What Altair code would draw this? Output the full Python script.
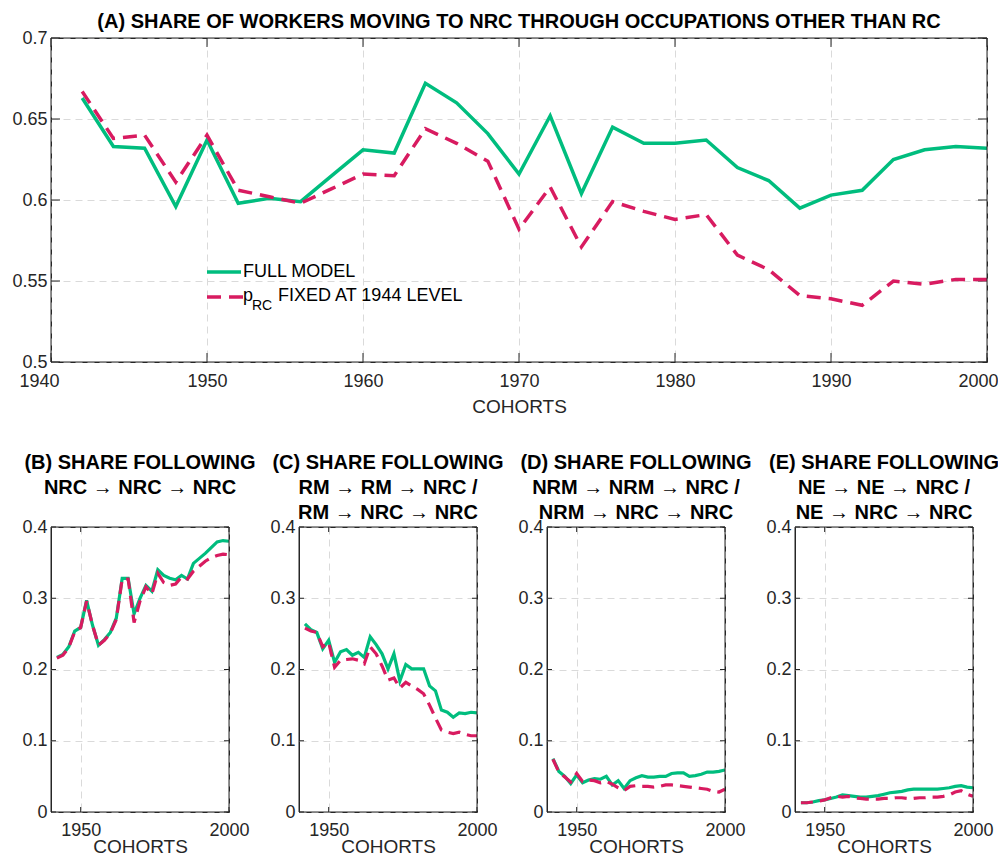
import altair as alt
import pandas as pd

years = list(range(1942, 2001, 2))

a_full = [0.663, 0.633, 0.632, 0.596, 0.637, 0.598, 0.601, 0.599, 0.615, 0.631,
          0.629, 0.672, 0.660, 0.641, 0.616, 0.652, 0.604, 0.645, 0.635, 0.635,
          0.637, 0.620, 0.612, 0.595, 0.603, 0.606, 0.625, 0.631, 0.633, 0.632]
a_fixed = [0.667, 0.638, 0.640, 0.611, 0.640, 0.606, 0.602, 0.598, 0.607, 0.616,
           0.615, 0.644, 0.635, 0.624, 0.582, 0.608, 0.571, 0.599, 0.593, 0.588,
           0.591, 0.566, 0.557, 0.541, 0.539, 0.535, 0.550, 0.548, 0.551, 0.551]

b_full = [0.217, 0.221, 0.232, 0.254, 0.259, 0.297, 0.262, 0.234, 0.242, 0.252,
          0.272, 0.328, 0.328, 0.278, 0.300, 0.318, 0.310, 0.340, 0.332, 0.328,
          0.326, 0.332, 0.327, 0.349, 0.356, 0.363, 0.371, 0.379, 0.381, 0.380]
b_fixed = [0.216, 0.220, 0.231, 0.253, 0.259, 0.296, 0.262, 0.234, 0.241, 0.251,
           0.270, 0.327, 0.327, 0.266, 0.296, 0.316, 0.306, 0.335, 0.322, 0.318,
           0.320, 0.330, 0.327, 0.338, 0.345, 0.352, 0.357, 0.360, 0.362, 0.361]

c_full = [0.264, 0.256, 0.252, 0.229, 0.241, 0.210, 0.225, 0.228, 0.220, 0.224,
          0.217, 0.246, 0.235, 0.222, 0.201, 0.222, 0.184, 0.207, 0.201, 0.201,
          0.201, 0.177, 0.170, 0.143, 0.140, 0.133, 0.139, 0.138, 0.140, 0.139]
c_fixed = [0.258, 0.254, 0.252, 0.232, 0.238, 0.203, 0.213, 0.214, 0.215, 0.213,
           0.208, 0.232, 0.222, 0.205, 0.185, 0.188, 0.174, 0.182, 0.177, 0.172,
           0.166, 0.150, 0.132, 0.115, 0.112, 0.110, 0.112, 0.109, 0.107, 0.107]

d_full = [0.075, 0.057, 0.050, 0.040, 0.052, 0.041, 0.045, 0.047, 0.046, 0.050,
          0.038, 0.044, 0.033, 0.044, 0.048, 0.051, 0.049, 0.049, 0.050, 0.050,
          0.054, 0.055, 0.055, 0.050, 0.051, 0.053, 0.056, 0.056, 0.057, 0.059]
d_fixed = [0.074, 0.056, 0.049, 0.042, 0.054, 0.043, 0.045, 0.044, 0.041, 0.043,
           0.039, 0.034, 0.030, 0.036, 0.037, 0.036, 0.036, 0.035, 0.036, 0.038,
           0.038, 0.037, 0.036, 0.035, 0.034, 0.033, 0.032, 0.029, 0.028, 0.032]

e_full = [0.013, 0.013, 0.014, 0.016, 0.017, 0.019, 0.021, 0.024, 0.023, 0.022,
          0.021, 0.021, 0.022, 0.023, 0.025, 0.027, 0.028, 0.029, 0.031, 0.032,
          0.032, 0.032, 0.032, 0.032, 0.033, 0.034, 0.036, 0.037, 0.035, 0.034]
e_fixed = [0.013, 0.013, 0.014, 0.015, 0.017, 0.020, 0.022, 0.021, 0.022, 0.020,
           0.019, 0.018, 0.018, 0.018, 0.019, 0.019, 0.020, 0.020, 0.019, 0.019,
           0.020, 0.020, 0.021, 0.021, 0.022, 0.024, 0.028, 0.030, 0.025, 0.022]

title_a = "(A) SHARE OF WORKERS MOVING TO NRC THROUGH OCCUPATIONS OTHER THAN RC"
title_b = ["(B) SHARE FOLLOWING", "NRC \u2192 NRC \u2192 NRC", " "]
title_c = ["(C) SHARE FOLLOWING", "RM \u2192 RM \u2192 NRC /", "RM \u2192 NRC \u2192 NRC"]
title_d = ["(D) SHARE FOLLOWING", "NRM \u2192 NRM \u2192 NRC /", "NRM \u2192 NRC \u2192 NRC"]
title_e = ["(E) SHARE FOLLOWING", "NE \u2192 NE \u2192 NRC /", "NE \u2192 NRC \u2192 NRC"]

x_title = "COHORTS"
legend_full = "FULL MODEL"
legend_p = "p"
legend_sub = "RC"
legend_rest = "FIXED AT 1944 LEVEL"

top_xticks = [1940, 1950, 1960, 1970, 1980, 1990, 2000]
top_yticks = [0.5, 0.55, 0.6, 0.65, 0.7]
bot_xticks = [1950, 2000]
bot_yticks = [0, 0.1, 0.2, 0.3, 0.4]

FONT = "Liberation Sans"
GREEN = "#00BD7E"
RED = "#D81B60"
AX = "#262626"
GRID = "#DADADA"


def panel(full, fixed, W, H, ydom, yticks, xticks, title, tl, lw, dash,
          label_offset, lab_pad, title_pad, t_off):
    df = pd.DataFrame({"year": years, "full": full, "fixed": fixed})
    xs = alt.Scale(domain=[1940, 2000], nice=False, zero=False)
    ys = alt.Scale(domain=ydom, nice=False, zero=False)
    xax = alt.Axis(values=xticks, format="d", grid=True, ticks=False, domain=False,
                   labelPadding=lab_pad, title=x_title, titlePadding=title_pad,
                   labelFlush=False, labelOffset=label_offset,
                   labelFont=FONT, titleFont=FONT, labelColor=AX, titleColor=AX,
                   labelFontSize=18, titleFontSize=19, titleFontWeight="normal",
                   gridColor=GRID, gridDash=[7, 5], gridWidth=1)
    yax = alt.Axis(values=yticks, format="~g", grid=True, ticks=False, domain=False,
                   labelPadding=4, title=None,
                   labelFont=FONT, labelColor=AX, labelFontSize=18,
                   gridColor=GRID, gridDash=[7, 5], gridWidth=1)
    base = alt.Chart(df)
    green = base.mark_line(color=GREEN, strokeWidth=lw, clip=True).encode(
        x=alt.X("year:Q", scale=xs, axis=xax),
        y=alt.Y("full:Q", scale=ys, axis=yax))
    red = base.mark_line(color=RED, strokeWidth=lw, strokeDash=dash, clip=True).encode(
        x=alt.X("year:Q", scale=xs, axis=xax),
        y=alt.Y("fixed:Q", scale=ys, axis=yax))
    xt = alt.Chart(pd.DataFrame({"t": xticks}))
    yt = alt.Chart(pd.DataFrame({"t": yticks}))
    bt = xt.mark_rule(color=AX, strokeWidth=1).encode(
        x=alt.X("t:Q", scale=xs, axis=xax), y=alt.value(H), y2=alt.value(H - tl))
    tt = xt.mark_rule(color=AX, strokeWidth=1).encode(
        x=alt.X("t:Q", scale=xs, axis=xax), y=alt.value(0), y2=alt.value(tl))
    lt = yt.mark_rule(color=AX, strokeWidth=1).encode(
        y=alt.Y("t:Q", scale=ys, axis=yax), x=alt.value(0), x2=alt.value(tl))
    rt = yt.mark_rule(color=AX, strokeWidth=1).encode(
        y=alt.Y("t:Q", scale=ys, axis=yax), x=alt.value(W), x2=alt.value(W - tl))
    frame = alt.Chart(pd.DataFrame({"k": [0]})).mark_rect(
        filled=False, stroke=AX, strokeWidth=1).encode(
        x=alt.value(0), x2=alt.value(W), y=alt.value(0), y2=alt.value(H))
    layers = [bt, tt, lt, rt, green, red, frame]
    return layers, alt.TitleParams(text=title, font=FONT, fontSize=20, fontWeight="bold",
                                   anchor="middle", color="#000000", offset=t_off,
                                   lineHeight=25, frame="group")


TW, TH = 936, 324
top_offset = {"condition": [{"test": "datum.value == 1940", "value": -12},
                            {"test": "datum.value == 2000", "value": -9}],
              "value": 0}
layers_a, tp_a = panel(a_full, a_fixed, TW, TH, [0.5, 0.7], top_yticks, top_xticks,
                       title_a, 9, 3.5, [14, 8], top_offset, 10, 7, -3)

leg = alt.Chart(pd.DataFrame({"k": [0]}))
leg_layers = [
    leg.mark_rule(color=GREEN, strokeWidth=3.5).encode(
        x=alt.value(156), x2=alt.value(190), y=alt.value(234)),
    leg.mark_rule(color=RED, strokeWidth=3.5, strokeDash=[14, 8]).encode(
        x=alt.value(156), x2=alt.value(192), y=alt.value(259)),
    leg.mark_text(text=legend_full, font=FONT, fontSize=18, align="left",
                  baseline="middle", color="#000000").encode(
        x=alt.value(192), y=alt.value(234)),
    leg.mark_text(text=legend_p, font=FONT, fontSize=18, align="left",
                  baseline="middle", color="#000000").encode(
        x=alt.value(192), y=alt.value(258)),
    leg.mark_text(text=legend_sub, font=FONT, fontSize=14, align="left",
                  baseline="middle", color="#000000").encode(
        x=alt.value(201), y=alt.value(268)),
    leg.mark_text(text=legend_rest, font=FONT, fontSize=18, align="left",
                  baseline="middle", color="#000000").encode(
        x=alt.value(227), y=alt.value(258)),
]

top = alt.layer(*(layers_a + leg_layers)).properties(width=TW, height=TH, title=tp_a)

BW, BH = 178, 285
bots = []
for full, fixed, t in [(b_full, b_fixed, title_b), (c_full, c_fixed, title_c),
                       (d_full, d_fixed, title_d), (e_full, e_fixed, title_e)]:
    ls, tp = panel(full, fixed, BW, BH, [0, 0.4], bot_yticks, bot_xticks, t, 5, 3.2,
                   [12, 7], 0, 9, -2, -5)
    bots.append(alt.layer(*ls).properties(width=BW, height=BH, title=tp))

bottom = alt.hconcat(*bots, spacing=70, bounds="flush")

chart = alt.vconcat(top, bottom, spacing=165, bounds="flush").properties(
    autosize=alt.AutoSizeParams(type="none"),
    padding={"left": 43, "top": 30, "right": 947, "bottom": 819},
    background="white"
).configure_view(
    stroke=AX, strokeWidth=1
)

chart.save("out.html", embed_options={"renderer": "svg", "actions": False})
